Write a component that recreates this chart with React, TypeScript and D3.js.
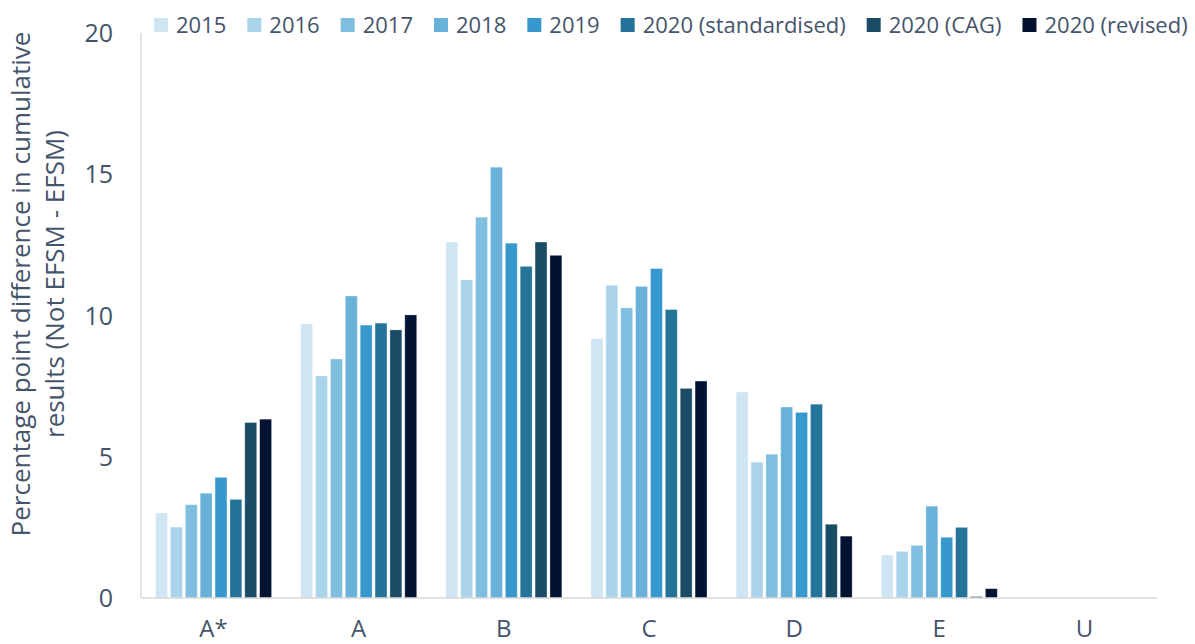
import React, { useEffect, useRef } from "react";
import { select, scaleBand, scaleLinear } from "d3";

const grades = ["A*", "A", "B", "C", "D", "E", "U"];
const seriesNames = ["2015", "2016", "2017", "2018", "2019", "2020 (standardised)", "2020 (CAG)", "2020 (revised)"];
const seriesColors = ["#cfe5f3", "#aad4ea", "#80bedf", "#69b1d9", "#3698cc", "#247398", "#1b4c66", "#021332"];

const v2015 = [3.01, 9.7, 12.6, 9.18, 7.29, 1.52, 0];
const v2016 = [2.51, 7.86, 11.26, 11.07, 4.81, 1.65, 0];
const v2017 = [3.3, 8.46, 13.48, 10.27, 5.09, 1.86, 0];
const v2018 = [3.71, 10.69, 15.25, 11.03, 6.76, 3.25, 0];
const v2019 = [4.27, 9.66, 12.56, 11.66, 6.57, 2.15, 0];
const v2020std = [3.49, 9.73, 11.74, 10.21, 6.86, 2.5, 0];
const v2020cag = [6.21, 9.49, 12.6, 7.42, 2.61, 0.05, 0];
const v2020rev = [6.33, 10.02, 12.13, 7.68, 2.19, 0.33, 0];
const seriesValues = [v2015, v2016, v2017, v2018, v2019, v2020std, v2020cag, v2020rev];

const yTicks = [0, 5, 10, 15, 20];

const W = 1195;
const H = 644;
const FONT = "'Open Sans', sans-serif";
const TEXT = "#44546a";

export default function App() {
  const ref = useRef<SVGSVGElement>(null);

  useEffect(() => {
    const svg = select(ref.current);
    svg.selectAll("*").remove();

    const x0 = scaleBand<string>().domain(grades).range([141, 1157]).paddingInner(0.16).paddingOuter(0.08);
    const x1 = scaleBand<string>().domain(seriesNames).range([0, x0.bandwidth()]).padding(0.2);
    const y = scaleLinear().domain([0, 20]).range([598, 33]);

    // bars
    seriesNames.forEach((name, si) => {
      svg.append("g")
        .selectAll("rect")
        .data(seriesValues[si])
        .join("rect")
        .attr("x", (d, i) => (x0(grades[i]) as number) + (x1(name) as number))
        .attr("y", d => y(d))
        .attr("width", x1.bandwidth())
        .attr("height", d => y(0) - y(d))
        .attr("fill", seriesColors[si])
        .attr("stroke", "rgba(255,255,255,0.35)")
        .attr("stroke-width", 0.8);
    });

    // axes lines
    svg.append("line")
      .attr("x1", 141).attr("x2", 141).attr("y1", y(20)).attr("y2", y(0))
      .attr("stroke", "#d9d9d9").attr("stroke-width", 1.5);
    svg.append("line")
      .attr("x1", 141).attr("x2", 1157).attr("y1", y(0)).attr("y2", y(0))
      .attr("stroke", "#d9d9d9").attr("stroke-width", 1.5);

    // y tick labels
    svg.append("g")
      .selectAll("text")
      .data(yTicks)
      .join("text")
      .attr("x", 113)
      .attr("y", d => y(d))
      .attr("dy", "0.36em")
      .attr("text-anchor", "end")
      .attr("font-family", FONT)
      .attr("font-size", 25)
      .attr("fill", TEXT)
      .text(d => d);

    // category labels
    svg.append("g")
      .selectAll("text")
      .data(grades)
      .join("text")
      .attr("x", d => (x0(d) as number) + x0.bandwidth() / 2)
      .attr("y", 637)
      .attr("text-anchor", "middle")
      .attr("font-family", FONT)
      .attr("font-size", 24)
      .attr("fill", TEXT)
      .text(d => d);

    // y title
    const title = svg.append("text")
      .attr("transform", "translate(0,284) rotate(-90)")
      .attr("text-anchor", "middle")
      .attr("font-family", FONT)
      .attr("font-size", 26)
      .attr("fill", TEXT);
    title.append("tspan").attr("x", 0).attr("y", 30).text("Percentage point difference in cumulative");
    title.append("tspan").attr("x", 0).attr("y", 64).text("results (Not EFSM - EFSM)");

    // legend
    let lx = 154;
    seriesNames.forEach((name, si) => {
      const g = svg.append("g");
      g.append("rect")
        .attr("x", lx).attr("y", 18).attr("width", 14).attr("height", 14)
        .attr("fill", seriesColors[si]);
      const t = g.append("text")
        .attr("x", lx + 22).attr("y", 25)
        .attr("dy", "0.36em")
        .attr("font-family", FONT)
        .attr("font-size", 22)
        .attr("fill", TEXT)
        .text(name);
      const w = (t.node() as SVGTextElement).getComputedTextLength();
      lx += 22 + w + 21;
    });
  }, []);

  return (
    <div style={{ position: "absolute", top: 0, left: 0, width: W, height: H, background: "#fff" }}>
      <svg ref={ref} width={W} height={H} style={{ display: "block" }} />
    </div>
  );
}
